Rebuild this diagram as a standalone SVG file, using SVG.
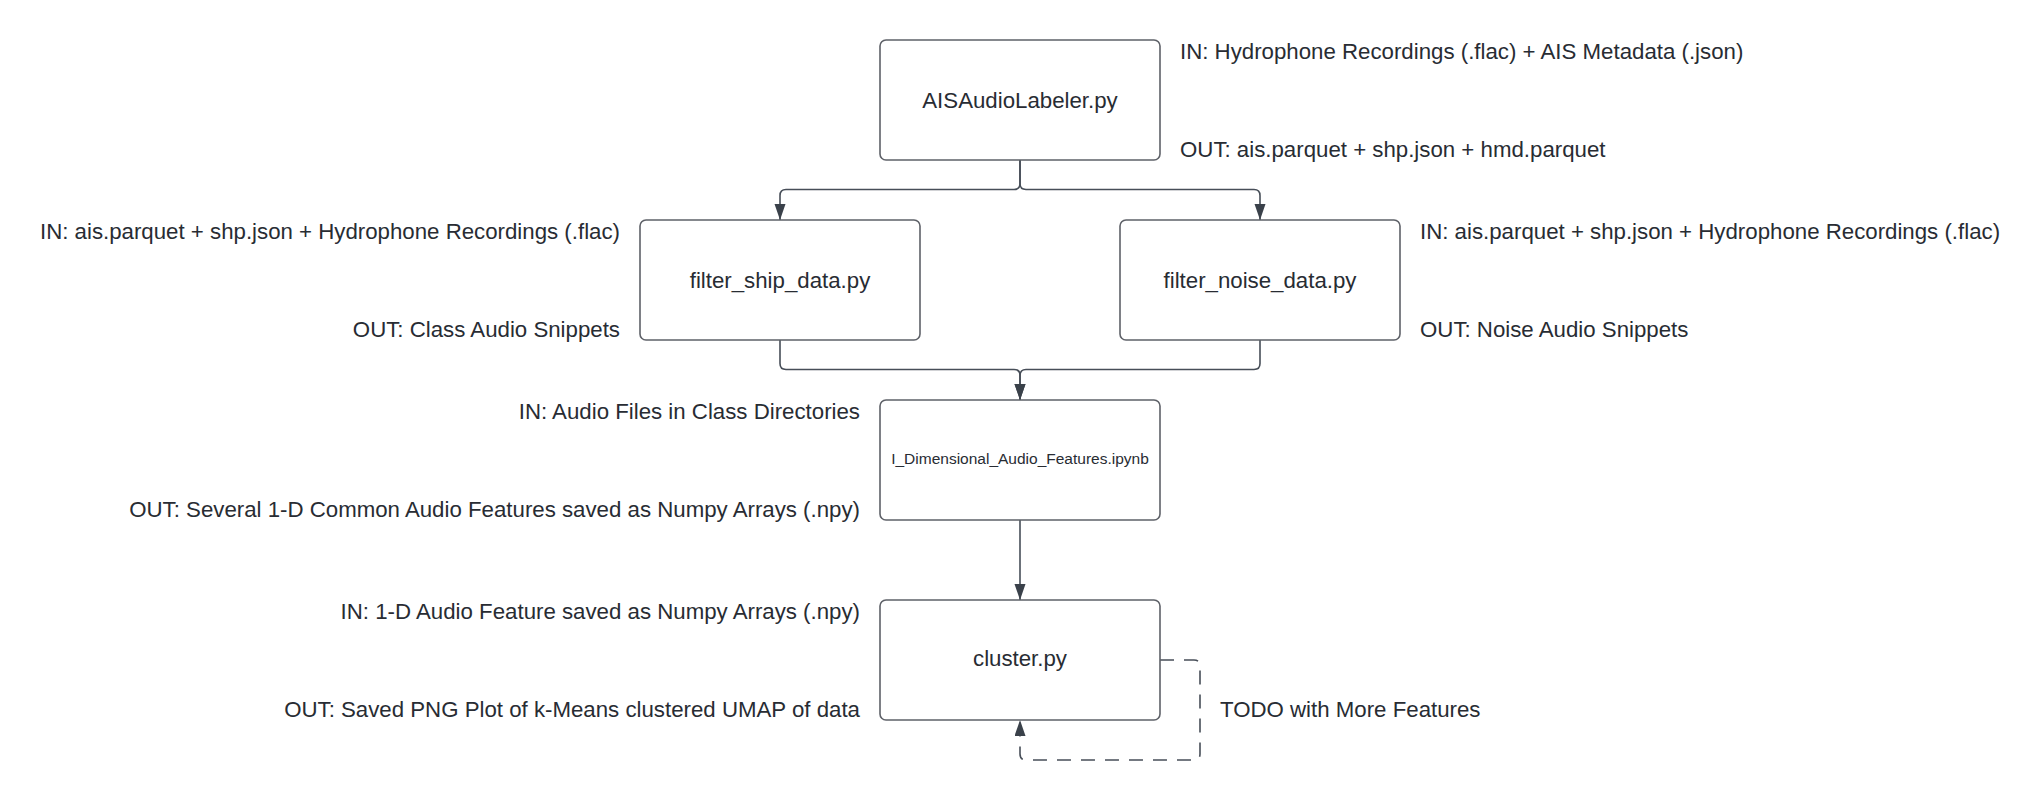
<svg xmlns="http://www.w3.org/2000/svg" width="2041" height="801" viewBox="0 0 2041 801">
<style>
.box{fill:#ffffff;stroke:#5e6168;stroke-width:1.6}
.lbl{font-family:"Liberation Sans",Arial,sans-serif;font-size:22.25px;fill:#282c33}
.node{text-anchor:middle}
.end{text-anchor:end}
.small{font-size:15.5px}
.conn{fill:none;stroke:#474e58;stroke-width:1.6}
.dash{stroke-dasharray:14 10}
</style>
<defs>
<marker id="arr" markerUnits="userSpaceOnUse" markerWidth="17" markerHeight="12" refX="16" refY="5.5" orient="auto">
<path d="M0,0 L16,5.5 L0,11 Z" fill="#3a414a"/>
</marker>
</defs>
<rect width="2041" height="801" fill="#ffffff"/>
<g id="connectors">
<path class="conn" d="M1020 160 L1020 183.5 Q1020 189.5 1014 189.5 L786 189.5 Q780 189.5 780 195.5 L780 220" marker-end="url(#arr)"/>
<path class="conn" d="M1020 160 L1020 183.5 Q1020 189.5 1026 189.5 L1254 189.5 Q1260 189.5 1260 195.5 L1260 220" marker-end="url(#arr)"/>
<path class="conn" d="M780 340 L780 363.5 Q780 369.5 786 369.5 L1014 369.5 Q1020 369.5 1020 375.5 L1020 400" marker-end="url(#arr)"/>
<path class="conn" d="M1260 340 L1260 363.5 Q1260 369.5 1254 369.5 L1026 369.5 Q1020 369.5 1020 375.5 L1020 400" marker-end="url(#arr)"/>
<path class="conn" d="M1020 520 L1020 600" marker-end="url(#arr)"/>
<path class="conn dash" d="M1160 660 L1194 660 Q1200 660 1200 666 L1200 754 Q1200 760 1194 760 L1026 760 Q1020 760 1020 754 L1020 720" marker-end="url(#arr)"/>
</g>
<g id="node-aisaudiolabeler">
<rect class="box" x="880" y="40" width="280" height="120" rx="6"/>
<text class="lbl node" x="1020" y="108">AISAudioLabeler.py</text>
<text class="lbl" x="1180" y="59">IN: Hydrophone Recordings (.flac) + AIS Metadata (.json)</text>
<text class="lbl" x="1180" y="157">OUT: ais.parquet + shp.json + hmd.parquet</text>
</g>
<g id="node-filter-ship">
<rect class="box" x="640" y="220" width="280" height="120" rx="6"/>
<text class="lbl node" x="780" y="288">filter_ship_data.py</text>
<text class="lbl end" x="620" y="239">IN: ais.parquet + shp.json + Hydrophone Recordings (.flac)</text>
<text class="lbl end" x="620" y="337">OUT: Class Audio Snippets</text>
</g>
<g id="node-filter-noise">
<rect class="box" x="1120" y="220" width="280" height="120" rx="6"/>
<text class="lbl node" x="1260" y="288">filter_noise_data.py</text>
<text class="lbl" x="1420" y="239">IN: ais.parquet + shp.json + Hydrophone Recordings (.flac)</text>
<text class="lbl" x="1420" y="337">OUT: Noise Audio Snippets</text>
</g>
<g id="node-features">
<rect class="box" x="880" y="400" width="280" height="120" rx="6"/>
<text class="lbl node small" x="1020" y="464">I_Dimensional_Audio_Features.ipynb</text>
<text class="lbl end" x="860" y="419">IN: Audio Files in Class Directories</text>
<text class="lbl end" x="860" y="517">OUT: Several 1-D Common Audio Features saved as Numpy Arrays (.npy)</text>
</g>
<g id="node-cluster">
<rect class="box" x="880" y="600" width="280" height="120" rx="6"/>
<text class="lbl node" x="1020" y="666">cluster.py</text>
<text class="lbl end" x="860" y="619">IN: 1-D Audio Feature saved as Numpy Arrays (.npy)</text>
<text class="lbl end" x="860" y="717">OUT: Saved PNG Plot of k-Means clustered UMAP of data</text>
<text class="lbl" x="1220" y="717">TODO with More Features</text>
</g>
</svg>
